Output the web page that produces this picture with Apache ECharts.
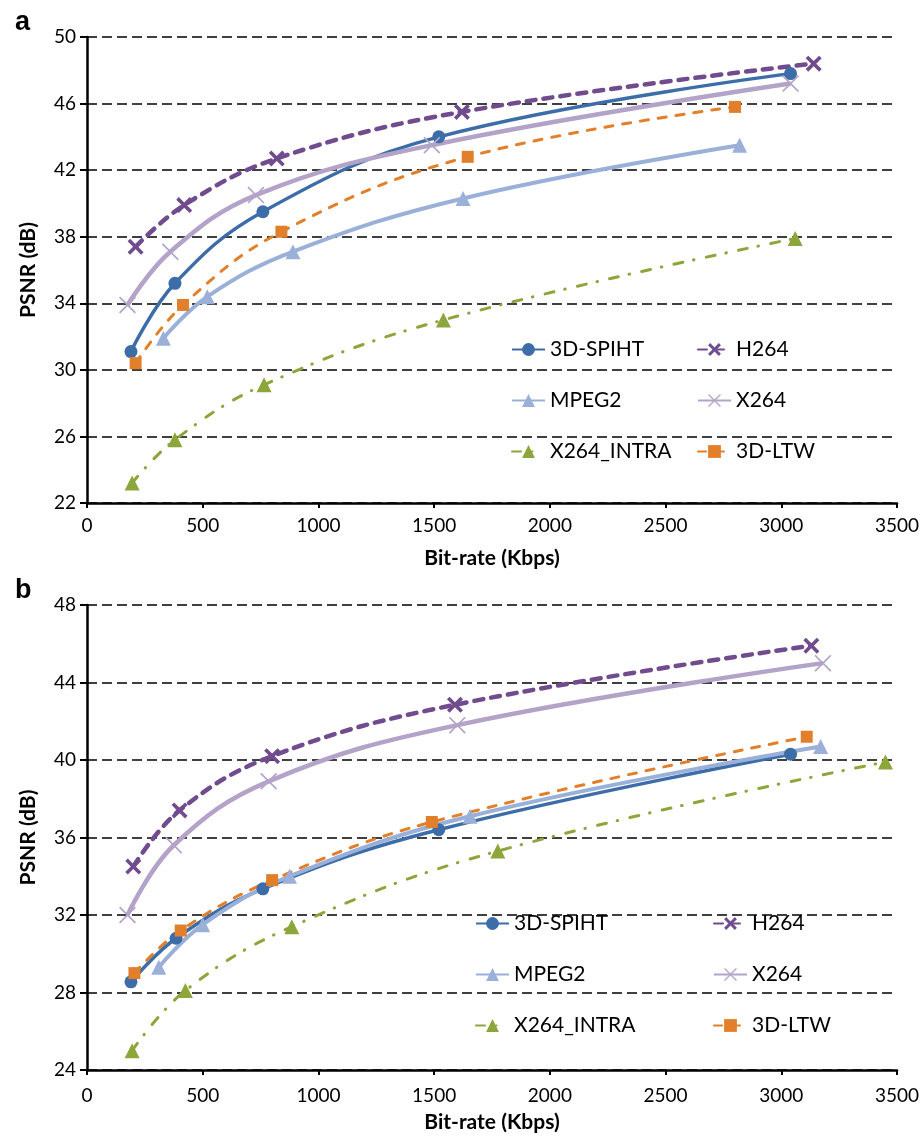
<!DOCTYPE html>
<html>
<head>
<meta charset="utf-8">
<script src="https://cdn.jsdelivr.net/npm/echarts@6/dist/echarts.min.js"></script>
<style>
  html, body { margin: 0; padding: 0; background: #fff; }
  #main { width: 923px; height: 1136px; }
</style>
</head>
<body>
<div id="main"></div>
<script>
// series names, in legend order (row by row)
var seriesNames = ["3D-SPIHT", "H264", "MPEG2", "X264", "X264_INTRA", "3D-LTW"];

// panel a: [bit-rate (Kbps), PSNR (dB)]
var aSpiht = [[190, 31.1], [380, 35.2], [760, 39.5], [1520, 44.0], [3040, 47.8]];
var aH264 = [[210, 37.4], [420, 39.9], [820, 42.7], [1620, 45.5], [3140, 48.4]];
var aMpeg2 = [[330, 31.9], [520, 34.4], [890, 37.1], [1625, 40.3], [2820, 43.5]];
var aX264 = [[175, 33.9], [360, 37.1], [730, 40.5], [1490, 43.5], [3040, 47.2]];
var aIntra = [[195, 23.2], [380, 25.8], [765, 29.1], [1540, 33.0], [3060, 37.9]];
var aLtw = [[210, 30.4], [415, 33.9], [840, 38.3], [1645, 42.8], [2800, 45.8]];

// panel b
var bSpiht = [[190, 28.55], [385, 30.8], [760, 33.35], [1520, 36.4], [3040, 40.3]];
var bH264 = [[200, 34.5], [400, 37.4], [800, 40.2], [1590, 42.85], [3130, 45.9]];
var bMpeg2 = [[310, 29.3], [500, 31.5], [875, 34.0], [1655, 37.1], [3170, 40.7]];
var bX264 = [[175, 32.0], [375, 35.6], [785, 38.9], [1600, 41.8], [3180, 45.0]];
var bIntra = [[195, 25.0], [425, 28.1], [885, 31.4], [1775, 35.3], [3450, 39.9]];
var bLtw = [[205, 29.0], [405, 31.2], [800, 33.8], [1490, 36.8], [3110, 41.2]];

var xTicks = [0, 3500, 500];
var yTicksA = [22, 50, 4];
var yTicksB = [24, 48, 4];

var font = "Lato";
var crossThick = "path://M0,1.6L1.6,0L5,3.4L8.4,0L10,1.6L6.6,5L10,8.4L8.4,10L5,6.6L1.6,10L0,8.4L3.4,5Z";
var crossThin = "path://M0,0.7L0.7,0L5,4.3L9.3,0L10,0.7L5.7,5L10,9.3L9.3,10L5,5.7L0.7,10L0,9.3L4.3,5Z";

// look of each series, same order as seriesNames
var looks = [
  { color: "#3D6DA9", width: 3.5, type: "solid", cap: "butt", symbol: "circle", size: 13 },
  { color: "#704C8F", width: 4.5, type: [9, 8], cap: "round", symbol: crossThick, size: 16 },
  { color: "#9AB0D8", width: 4, type: "solid", cap: "butt", symbol: "triangle", size: 15 },
  { color: "#B4A3C9", width: 4.5, type: "solid", cap: "butt", symbol: crossThin, size: 17 },
  { color: "#8DA63C", width: 3, type: [9, 11, 0.5, 12.5], cap: "round", symbol: "triangle", size: 15 },
  { color: "#E27F2A", width: 3, type: [8, 10], cap: "round", symbol: "rect", size: 12 },
];

function makeSeries(name, data, idx, look) {
  return {
    name: name,
    type: "line",
    xAxisIndex: idx,
    yAxisIndex: idx,
    data: data,
    smooth: 0.4,
    symbol: look.symbol,
    symbolSize: look.size,
    showAllSymbol: true,
    lineStyle: { color: look.color, width: look.width, type: look.type, cap: look.cap },
    itemStyle: { color: look.color },
    emphasis: { disabled: true },
  };
}

var panelA = [aSpiht, aH264, aMpeg2, aX264, aIntra, aLtw];
var panelB = [bSpiht, bH264, bMpeg2, bX264, bIntra, bLtw];
var series = [];
for (var i = 0; i < seriesNames.length; i++) {
  series.push(makeSeries(seriesNames[i], panelA[i], 0, looks[i]));
}
for (var i = 0; i < seriesNames.length; i++) {
  series.push(makeSeries(seriesNames[i], panelB[i], 1, looks[i]));
}

// legends: one component per entry so the two columns line up
var legendA = { cols: [511, 697], rows: [351, 402, 453] };
var legendB = { cols: [475, 713], rows: [925, 976, 1027] };
var legends = [];
[legendA, legendB].forEach(function (lg) {
  for (var i = 0; i < seriesNames.length; i++) {
    legends.push({
      data: [seriesNames[i]],
      left: lg.cols[i % 2],
      top: lg.rows[Math.floor(i / 2)] - 12,
      padding: 0,
      itemWidth: 33,
      itemHeight: 16,
      selectedMode: false,
      textStyle: { fontFamily: font, fontSize: 21, color: "#000" },
    });
  }
});

function xAxis(idx) {
  return {
    type: "value",
    gridIndex: idx,
    min: xTicks[0],
    max: xTicks[1],
    interval: xTicks[2],
    name: "Bit-rate (Kbps)",
    nameLocation: "middle",
    nameGap: idx === 0 ? 45 : 42,
    nameTextStyle: { fontFamily: font, fontSize: 21, fontWeight: "bold", color: "#000" },
    axisLine: { lineStyle: { color: "#000", width: 2.5 } },
    axisTick: { length: 5, lineStyle: { color: "#000", width: 2 } },
    axisLabel: {
      margin: idx === 0 ? 13 : 16,
      fontFamily: font,
      fontSize: 19,
      color: "#000",
      formatter: function (v) { return String(v); },
    },
    splitLine: { show: false },
  };
}

function yAxis(idx, ticks) {
  return {
    type: "value",
    gridIndex: idx,
    min: ticks[0],
    max: ticks[1],
    interval: ticks[2],
    name: "PSNR (dB)",
    nameLocation: "middle",
    nameGap: 48,
    nameTextStyle: { fontFamily: font, fontSize: 21, fontWeight: "bold", color: "#000" },
    axisLine: { show: true, onZero: false, lineStyle: { color: "#000", width: 2.5 } },
    axisTick: { show: true, length: 7, lineStyle: { color: "#000", width: 2 } },
    axisLabel: { margin: 11, fontFamily: font, fontSize: 19, color: "#000" },
    splitLine: { show: true, lineStyle: { color: "#000", width: 1.5, type: [10, 5] } },
  };
}

var chart = echarts.init(document.getElementById("main"));
chart.setOption({
  animation: false,
  backgroundColor: "#fff",
  title: [
    { text: "a", left: 10, top: 4, textStyle: { fontFamily: "Liberation Sans", fontSize: 27, fontWeight: "bold", color: "#000" } },
    { text: "b", left: 10, top: 572, textStyle: { fontFamily: "Liberation Sans", fontSize: 27, fontWeight: "bold", color: "#000" } },
  ],
  legend: legends,
  grid: [
    { left: 87, top: 37, width: 810, height: 466 },
    { left: 87, top: 605, width: 810, height: 465 },
  ],
  xAxis: [xAxis(0), xAxis(1)],
  yAxis: [yAxis(0, yTicksA), yAxis(1, yTicksB)],
  series: series,
});
</script>
</body>
</html>
